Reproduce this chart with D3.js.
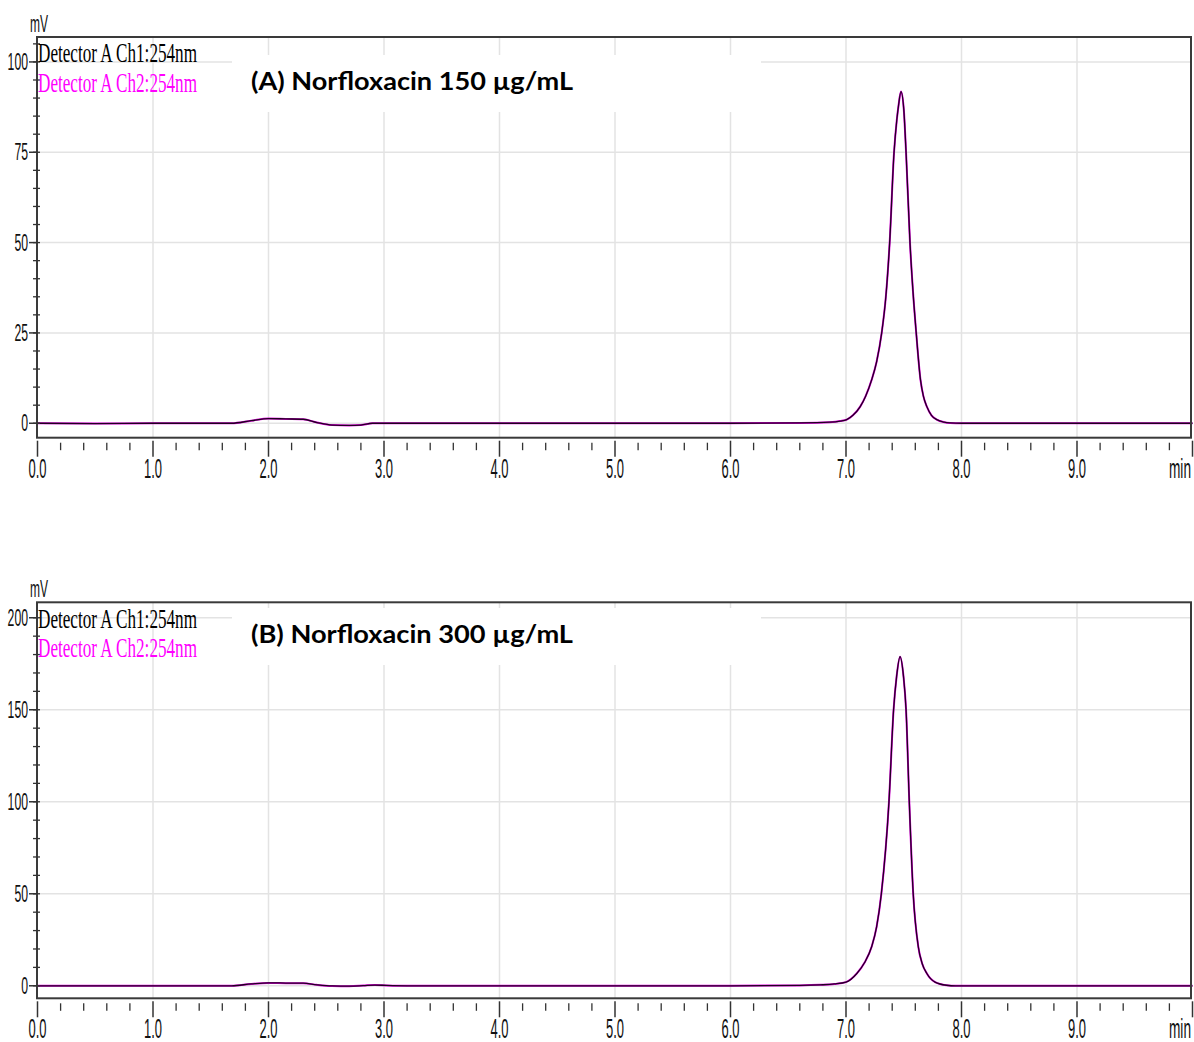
<!DOCTYPE html>
<html>
<head>
<meta charset="utf-8">
<script src="https://cdn.jsdelivr.net/npm/d3@7"></script>
<style>
  html, body { margin: 0; padding: 0; background: #fff; }
  svg { display: block; }
</style>
</head>
<body>
<svg id="chart" width="1194" height="1042"></svg>
<script>
// ---------- DATA ----------
const xTickLabels = ["0.0","1.0","2.0","3.0","4.0","5.0","6.0","7.0","8.0","9.0"];
const xMajorTicks = [0,1,2,3,4,5,6,7,8,9,10];
const yTicksA = [0, 25, 50, 75, 100];
const yTicksB = [0, 50, 100, 150, 200];
const titleA = "(A) Norfloxacin 150 µg/mL";
const titleB = "(B) Norfloxacin 300 µg/mL";
const legendLabels = ["Detector A Ch1:254nm", "Detector A Ch2:254nm"];

// Panel A (retention time in min, signal in mV)
const timeA = [0, 0.5, 1.0, 1.68, 1.85, 2.0, 2.15, 2.3, 2.42, 2.55, 2.7, 2.8, 2.9, 3.2, 4.0, 5.0, 6.0, 6.6, 6.86,
               6.95, 7.006, 7.06, 7.123, 7.17, 7.222, 7.265, 7.309, 7.345, 7.378, 7.416, 7.44, 7.455, 7.476,
               7.50, 7.52, 7.554, 7.58, 7.608, 7.645, 7.67, 7.70, 7.74, 7.786, 7.85, 7.90, 8.0, 8.5, 9.0, 9.5, 10.0];
const ch1A  = [0, -0.1, 0, 0, 0.7, 1.3, 1.2, 1.1, 0.2, -0.5, -0.6, -0.5, 0, 0, 0, 0, 0, 0.1, 0.3,
               0.6, 1.0, 2.2, 4.6, 7.5, 12, 17, 25, 35, 50, 75, 84, 88, 91.8,
               87, 75, 50, 36.5, 25, 12, 7.5, 4.6, 2.2, 1.0, 0.3, 0.1, 0, 0, 0, 0, 0];
const ch2A  = [0, -0.1, 0, 0, 0.7, 1.3, 1.2, 1.1, 0.2, -0.5, -0.6, -0.5, 0, 0, 0, 0, 0, 0.1, 0.3,
               0.6, 1.0, 2.2, 4.6, 7.5, 12, 17, 25, 35, 50, 75, 84, 88, 91.8,
               87, 75, 50, 36.5, 25, 12, 7.5, 4.6, 2.2, 1.0, 0.3, 0.1, 0, 0, 0, 0, 0];

// Panel B
const timeB = [0, 1.0, 1.2, 1.68, 1.85, 2.0, 2.15, 2.3, 2.42, 2.55, 2.7, 2.82, 2.92, 3.02, 3.2, 4.0, 5.0, 6.0, 6.6, 6.775,
               6.9, 7.0, 7.094, 7.16, 7.222, 7.265, 7.306, 7.372, 7.412, 7.438, 7.468,
               7.498, 7.52, 7.548, 7.582, 7.626, 7.66, 7.70, 7.771, 7.87, 7.95, 8.5, 9.0, 9.5, 10.0];
const ch1B  = [0, 0, 0, 0, 1.0, 1.6, 1.5, 1.4, 0.5, -0.1, -0.2, 0.1, 0.4, 0.2, 0, 0, 0, 0, 0.2, 0.5,
               1.0, 2.0, 6.7, 12.5, 21.2, 32, 50, 100, 150, 168, 178.8,
               168, 150, 100, 50, 21.2, 12, 6.7, 2.0, 0.3, 0, 0, 0, 0, 0];
const ch2B  = [0, 0, 0, 0, 1.0, 1.5, 1.4, 1.4, 0.5, -0.1, -0.2, 0.1, 0.4, 0.2, 0, 0, 0, 0, 0.2, 0.5,
               1.0, 2.0, 6.7, 12.5, 21.2, 32, 50, 100, 150, 168, 178.8,
               168, 150, 100, 50, 21.2, 12, 6.7, 2.0, 0.3, 0, 0, 0, 0, 0];

// ---------- DRAW ----------
const svg = d3.select("#chart");

function drawPanel(p) {
  const g = svg.append("g");
  const x = d3.scaleLinear().domain([0, 10]).range([37.5, 1192.5]);
  const y = d3.scaleLinear().domain(p.yDomain).range([p.bottom, p.top]);
  const left = 37, right = 1191;

  // grid
  g.append("g").selectAll("line.h").data(p.yTicks).join("line")
    .attr("x1", left).attr("x2", right)
    .attr("y1", d => y(d)).attr("y2", d => y(d))
    .attr("stroke", "#e3e3e3").attr("stroke-width", 1.5);
  g.append("g").selectAll("line.v").data(d3.range(1, 10)).join("line")
    .attr("x1", d => x(d)).attr("x2", d => x(d))
    .attr("y1", p.top).attr("y2", p.bottom)
    .attr("stroke", "#e3e3e3").attr("stroke-width", 1.5);

  // white box behind title
  g.append("rect").attr("x", 232).attr("y", p.boxTop).attr("width", 529).attr("height", p.boxH)
    .attr("fill", "#fff");

  // curves
  const line = (times) => d3.line()
    .x((d, i) => x(times[i]))
    .y(d => y(d))
    .curve(d3.curveMonotoneX);
  g.append("path").datum(p.ch2).attr("d", line(p.time))
    .attr("fill", "none").attr("stroke", "#e000e0").attr("stroke-width", 2);
  g.append("path").datum(p.ch1).attr("d", line(p.time))
    .attr("fill", "none").attr("stroke", "#200020").attr("stroke-width", 1.3);

  // frame
  g.append("rect").attr("x", left).attr("y", p.top).attr("width", right - left).attr("height", p.bottom - p.top)
    .attr("fill", "none").attr("stroke", "#3a3a3a").attr("stroke-width", 2);

  // y ticks
  const yMinor = d3.range(0, p.yMax + 0.001, p.yMinorStep);
  g.append("g").selectAll("line").data(yMinor).join("line")
    .attr("x1", 33).attr("x2", 40)
    .attr("y1", d => y(d)).attr("y2", d => y(d))
    .attr("stroke", "#333").attr("stroke-width", 1.3);
  g.append("g").selectAll("line").data(p.yTicks).join("line")
    .attr("x1", 29).attr("x2", 37)
    .attr("y1", d => y(d)).attr("y2", d => y(d))
    .attr("stroke", "#333").attr("stroke-width", 1.5);
  g.append("g").selectAll("text").data(p.yTicks).join("text")
    .attr("x", 28).attr("y", d => y(d) + 8)
    .attr("text-anchor", "end")
    .attr("font-family", "Liberation Sans, Arial, sans-serif")
    .attr("font-size", 23)
    .attr("textLength", d => String(d).length * 6.8)
    .attr("lengthAdjust", "spacingAndGlyphs")
    .attr("fill", "#111")
    .text(d => d);
  g.append("text").attr("x", 30).attr("y", p.top - 5)
    .attr("font-family", "Liberation Sans, Arial, sans-serif")
    .attr("font-size", 23).attr("textLength", 18).attr("lengthAdjust", "spacingAndGlyphs")
    .attr("fill", "#111").text("mV");

  // x ticks
  const xMinor = d3.range(0, 50).map(i => i * 0.2).filter(v => Math.abs(v - Math.round(v)) > 0.01);
  g.append("g").selectAll("line").data(xMinor).join("line")
    .attr("x1", d => x(d)).attr("x2", d => x(d))
    .attr("y1", p.bottom + 5).attr("y2", p.bottom + 12.5)
    .attr("stroke", "#333").attr("stroke-width", 1.3);
  g.append("g").selectAll("line").data(xMajorTicks).join("line")
    .attr("x1", d => x(d)).attr("x2", d => x(d))
    .attr("y1", p.bottom + 3).attr("y2", p.bottom + 19)
    .attr("stroke", "#333").attr("stroke-width", 1.5);
  g.append("g").selectAll("text").data(xTickLabels).join("text")
    .attr("x", (d, i) => x(i)).attr("y", p.bottom + 40)
    .attr("text-anchor", "middle")
    .attr("font-family", "Liberation Sans, Arial, sans-serif")
    .attr("font-size", 27)
    .attr("textLength", 18).attr("lengthAdjust", "spacingAndGlyphs")
    .attr("fill", "#111")
    .text(d => d);
  g.append("text").attr("x", 1191).attr("y", p.bottom + 40)
    .attr("text-anchor", "end")
    .attr("font-family", "Liberation Sans, Arial, sans-serif")
    .attr("font-size", 27).attr("textLength", 22).attr("lengthAdjust", "spacingAndGlyphs")
    .attr("fill", "#111").text("min");

  // legend
  g.append("text").attr("x", 38).attr("y", p.leg1)
    .attr("font-family", "Liberation Serif, Times New Roman, serif")
    .attr("font-size", 27).attr("textLength", 159).attr("lengthAdjust", "spacingAndGlyphs")
    .attr("fill", "#000").text(legendLabels[0]);
  g.append("text").attr("x", 38).attr("y", p.leg2)
    .attr("font-family", "Liberation Serif, Times New Roman, serif")
    .attr("font-size", 27).attr("textLength", 159).attr("lengthAdjust", "spacingAndGlyphs")
    .attr("fill", "#ff00ff").text(legendLabels[1]);

  // title
  g.append("text").attr("x", 251).attr("y", p.titleY)
    .attr("font-family", "Lato, Open Sans, sans-serif")
    .attr("font-weight", "bold")
    .attr("font-size", 25).attr("textLength", 322).attr("lengthAdjust", "spacingAndGlyphs")
    .attr("fill", "#000").text(p.title);
}

drawPanel({
  top: 37, bottom: 437.7, yDomain: [-4, 106.9], yTicks: yTicksA, yMax: 105, yMinorStep: 5,
  time: timeA, ch1: ch1A, ch2: ch2A, title: titleA, titleY: 89.5, leg1: 62, leg2: 92,
  boxTop: 55, boxH: 57
});
drawPanel({
  top: 602.3, bottom: 998.3, yDomain: [-6.8, 208.4], yTicks: yTicksB, yMax: 200, yMinorStep: 10,
  time: timeB, ch1: ch1B, ch2: ch2B, title: titleB, titleY: 642.5, leg1: 628, leg2: 657,
  boxTop: 608, boxH: 57
});
</script>
</body>
</html>
